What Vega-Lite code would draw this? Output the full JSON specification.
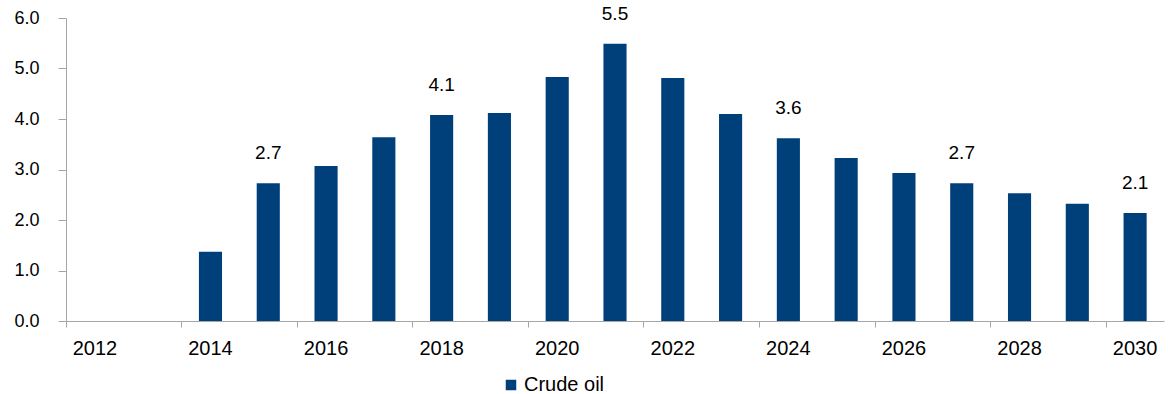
{
  "$schema": "https://vega.github.io/schema/vega-lite/v6.json",
  "width": 1098,
  "height": 303,
  "autosize": {"type": "none"},
  "padding": {"left": 66, "top": 18, "right": 4, "bottom": 73},
  "background": "white",
  "config": {
    "view": {"stroke": null},
    "font": "Liberation Sans",
    "axis": {
      "grid": false,
      "domainColor": "#A6A6A6",
      "tickColor": "#A6A6A6",
      "labelColor": "#000000",
      "labelFont": "Liberation Sans"
    }
  },
  "data": {
    "values": [
      {"year": 2014, "value": 1.37, "label": "", "series": "Crude oil"},
      {"year": 2015, "value": 2.73, "label": "2.7", "series": "Crude oil"},
      {"year": 2016, "value": 3.07, "label": "", "series": "Crude oil"},
      {"year": 2017, "value": 3.64, "label": "", "series": "Crude oil"},
      {"year": 2018, "value": 4.08, "label": "4.1", "series": "Crude oil"},
      {"year": 2019, "value": 4.12, "label": "", "series": "Crude oil"},
      {"year": 2020, "value": 4.83, "label": "", "series": "Crude oil"},
      {"year": 2021, "value": 5.49, "label": "5.5", "series": "Crude oil"},
      {"year": 2022, "value": 4.81, "label": "", "series": "Crude oil"},
      {"year": 2023, "value": 4.10, "label": "", "series": "Crude oil"},
      {"year": 2024, "value": 3.62, "label": "3.6", "series": "Crude oil"},
      {"year": 2025, "value": 3.23, "label": "", "series": "Crude oil"},
      {"year": 2026, "value": 2.93, "label": "", "series": "Crude oil"},
      {"year": 2027, "value": 2.73, "label": "2.7", "series": "Crude oil"},
      {"year": 2028, "value": 2.53, "label": "", "series": "Crude oil"},
      {"year": 2029, "value": 2.32, "label": "", "series": "Crude oil"},
      {"year": 2030, "value": 2.14, "label": "2.1", "series": "Crude oil"}
    ]
  },
  "encoding": {
    "x": {
      "field": "year",
      "type": "ordinal",
      "scale": {
        "domain": [2012, 2013, 2014, 2015, 2016, 2017, 2018, 2019, 2020, 2021, 2022, 2023, 2024, 2025, 2026, 2027, 2028, 2029, 2030],
        "paddingInner": 0,
        "paddingOuter": 0
      },
      "axis": {
        "title": null,
        "values": [2012, 2014, 2016, 2018, 2020, 2022, 2024, 2026, 2028, 2030],
        "bandPosition": 0,
        "labelAngle": 0,
        "labelFontSize": 20,
        "labelPadding": 11,
        "tickSize": 6
      }
    },
    "y": {
      "field": "value",
      "type": "quantitative",
      "scale": {"domain": [0, 6], "nice": false},
      "axis": {
        "title": null,
        "values": [0, 1, 2, 3, 4, 5, 6],
        "format": ".1f",
        "labelFontSize": 18,
        "labelPadding": 19,
        "tickSize": 8
      }
    }
  },
  "layer": [
    {
      "mark": {"type": "bar", "width": {"band": 0.4}},
      "encoding": {
        "color": {
          "field": "series",
          "type": "nominal",
          "scale": {"range": ["#00407A"]},
          "legend": {
            "title": null,
            "orient": "none",
            "legendX": 435,
            "legendY": 357,
            "symbolType": "square",
            "symbolSize": 110,
            "symbolStrokeWidth": 0,
            "labelFontSize": 20,
            "labelColor": "#000000",
            "labelOffset": 3,
            "padding": 0
          }
        }
      }
    },
    {
      "mark": {"type": "text", "baseline": "bottom", "dy": -20, "fontSize": 19, "color": "#000000"},
      "encoding": {
        "text": {"field": "label"}
      }
    }
  ]
}
